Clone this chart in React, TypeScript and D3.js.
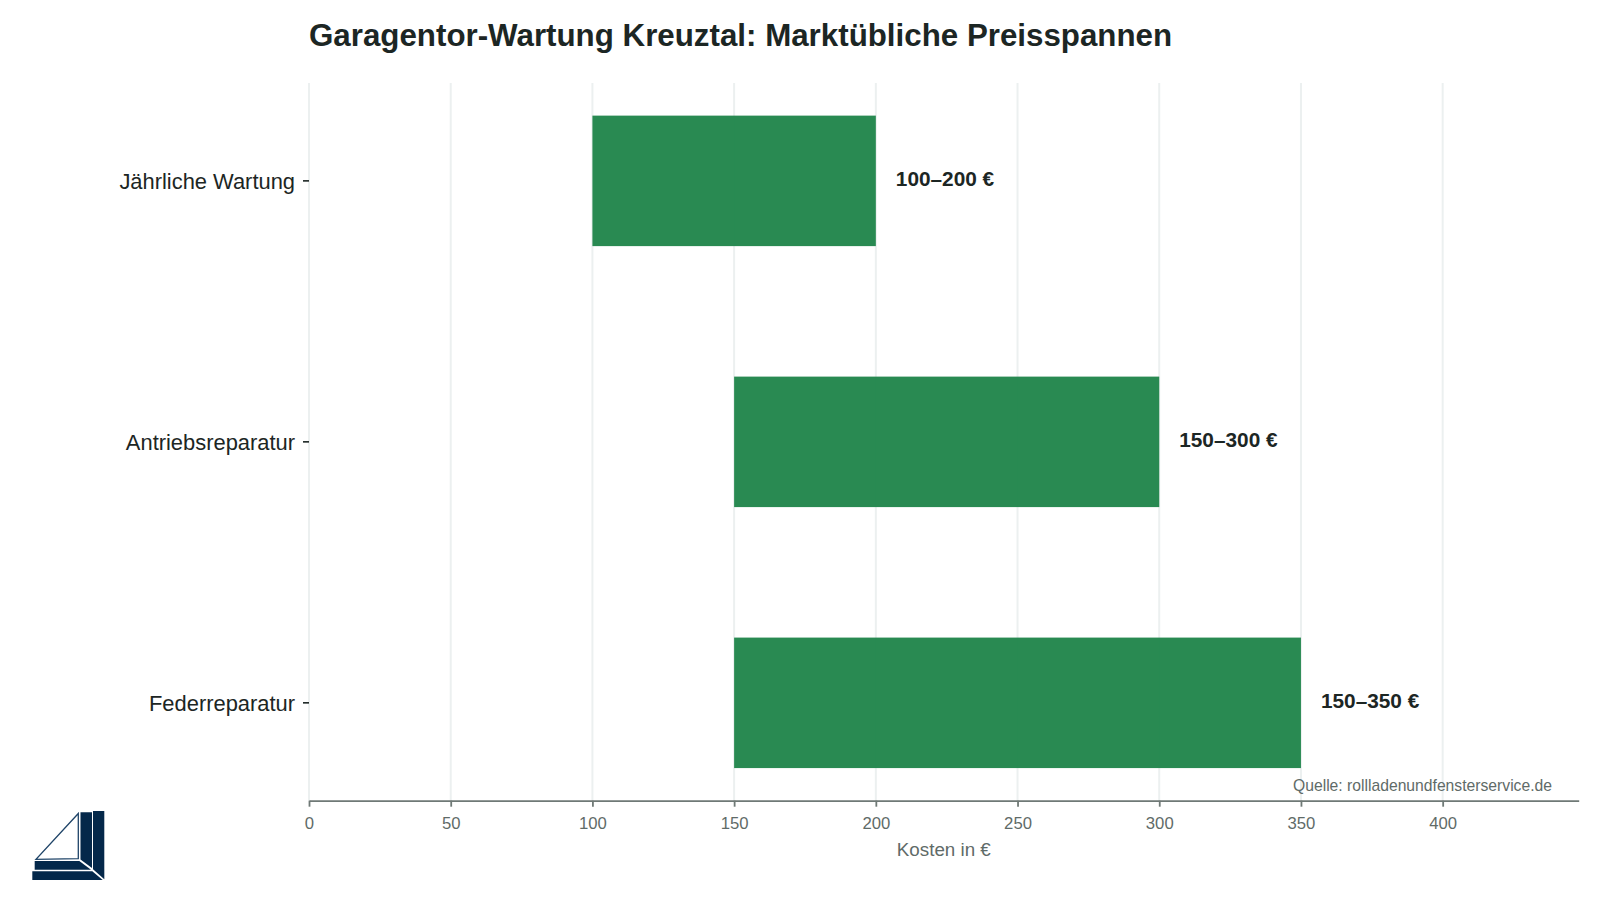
import { useEffect, useRef } from 'react'
import * as d3 from 'd3'

const categories = ['Jährliche Wartung', 'Antriebsreparatur', 'Federreparatur']
const lowValues = [100, 150, 150]
const highValues = [200, 300, 350]
const rangeLabels = ['100–200 €', '150–300 €', '150–350 €']
const xTicks = [0, 50, 100, 150, 200, 250, 300, 350, 400]

const width = 1600
const height = 900
const margin = { top: 83, right: 21.3, bottom: 99.3, left: 309 }
const font = '"Liberation Sans", Arial, sans-serif'
const inkColor = '#1c2624'
const mutedColor = '#5f6b68'
const axisColor = '#6f7976'

// logo shapes, in page pixels
const logoFill = '#04284a'
const logoPolys = [
  '93,811 104.3,811 104.3,879.3 93,869.3',
  '80.5,812.3 92,812.3 92,868 80.5,859.5',
  '34.7,861 79.3,861 91,869.7 34.7,869.7',
  '32.3,871.3 92.3,871.3 102.7,880 32.3,880'
]

export default function App() {
  const svgRef = useRef<SVGSVGElement>(null)

  useEffect(() => {
    if (!svgRef.current) return
    const svg = d3.select(svgRef.current)
    svg.selectAll('*').remove()

    const x = d3.scaleLinear()
      .domain([0, 448])
      .range([margin.left, width - margin.right])

    const y = d3.scaleBand<string>()
      .domain(categories)
      .range([margin.top, height - margin.bottom])
      .paddingInner(0.5)
      .paddingOuter(0.125)

    // Grid
    svg.append('g')
      .selectAll('line')
      .data(xTicks)
      .enter()
      .append('line')
      .attr('x1', d => x(d))
      .attr('x2', d => x(d))
      .attr('y1', margin.top)
      .attr('y2', height - margin.bottom)
      .style('stroke', '#ecf0f0')
      .style('stroke-width', '2px')

    // Bars
    svg.append('g')
      .selectAll('rect')
      .data(categories)
      .enter()
      .append('rect')
      .attr('x', (_, i) => x(lowValues[i]))
      .attr('y', d => y(d) as number)
      .attr('width', (_, i) => x(highValues[i]) - x(lowValues[i]))
      .attr('height', y.bandwidth())
      .style('fill', '#1e8449')
      .style('opacity', 0.95)

    // Range labels
    svg.append('g')
      .selectAll('text')
      .data(categories)
      .enter()
      .append('text')
      .attr('x', (_, i) => x(highValues[i]) + 20)
      .attr('y', d => (y(d) as number) + y.bandwidth() / 2 - 2)
      .attr('dy', '0.35em')
      .style('font-family', font)
      .style('font-size', '20.8px')
      .style('font-weight', '700')
      .style('fill', inkColor)
      .text((_, i) => rangeLabels[i])

    // X axis
    const xAxis = svg.append('g')
      .attr('transform', `translate(0,${height - margin.bottom})`)
      .call(d3.axisBottom(x).tickValues(xTicks).tickFormat(d => String(d)).tickSize(6).tickPadding(10).tickSizeOuter(0))
    xAxis.select('.domain').style('stroke', axisColor).style('stroke-width', '1.8px')
    xAxis.selectAll('.tick line').style('stroke', axisColor).style('stroke-width', '1.8px')
    xAxis.selectAll('.tick text')
      .style('font-family', font)
      .style('font-size', '16.7px')
      .style('fill', mutedColor)

    // Y axis ticks, no spine
    const yAxis = svg.append('g')
      .attr('transform', `translate(${margin.left},0)`)
      .call(d3.axisLeft(y).tickSize(6).tickPadding(8).tickSizeOuter(0))
    yAxis.select('.domain').remove()
    yAxis.selectAll('.tick line').style('stroke', inkColor).style('stroke-width', '1.6px')
    yAxis.selectAll('.tick text')
      .attr('dy', '0.35em')
      .style('font-family', font)
      .style('font-size', '21.9px')
      .style('fill', inkColor)

    // Titles
    svg.append('text')
      .attr('x', margin.left)
      .attr('y', 46)
      .style('font-family', font)
      .style('font-size', '31.3px')
      .style('font-weight', '700')
      .style('fill', inkColor)
      .text('Garagentor-Wartung Kreuztal: Marktübliche Preisspannen')

    svg.append('text')
      .attr('x', (margin.left + width - margin.right) / 2)
      .attr('y', 856)
      .attr('text-anchor', 'middle')
      .style('font-family', font)
      .style('font-size', '18.8px')
      .style('fill', mutedColor)
      .text('Kosten in €')

    svg.append('text')
      .attr('x', 1552)
      .attr('y', 791)
      .attr('text-anchor', 'end')
      .style('font-family', font)
      .style('font-size', '15.7px')
      .style('fill', mutedColor)
      .text('Quelle: rollladenundfensterservice.de')

    // Logo
    const logo = svg.append('g')
    logo.selectAll('polygon')
      .data(logoPolys)
      .enter()
      .append('polygon')
      .attr('points', d => d)
      .style('fill', logoFill)
    logo.append('polygon')
      .attr('points', '78.3,813.5 78.3,858.7 36,859.3')
      .style('fill', 'none')
      .style('stroke', '#1f4468')
      .style('stroke-width', '1.3px')
  }, [])

  return (
    <svg
      ref={svgRef}
      width={width}
      height={height}
      style={{ position: 'absolute', left: 0, top: 0, background: '#fff' }}
    />
  )
}
